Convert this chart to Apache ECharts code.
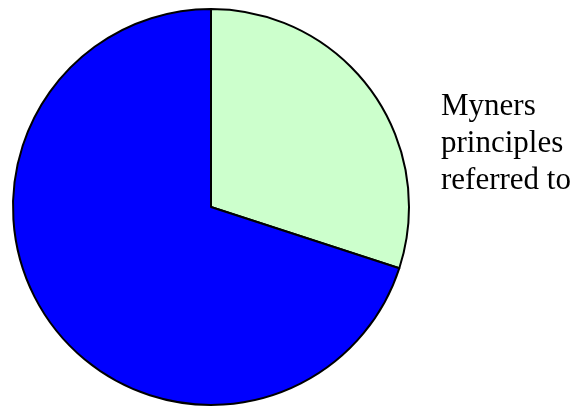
<!DOCTYPE html>
<html>
<head>
<meta charset="utf-8">
<script src="https://cdn.jsdelivr.net/npm/echarts@6/dist/echarts.min.js"></script>
<style>html,body{margin:0;padding:0;background:#fff;}#c{width:576px;height:408px;}</style>
</head>
<body>
<div id="c"></div>
<script>
const categories = ["Myners principles referred to", "Not referred to"];
const values = [30, 70];
const colors = ["#CCFFCC", "#0000FF"];
const legendLines = ["Myners", "principles", "referred to"];

const chart = echarts.init(document.getElementById('c'), null, {renderer: 'canvas'});
chart.setOption({
  animation: false,
  backgroundColor: '#ffffff',
  title: {
    text: legendLines.join('\n'),
    left: 441,
    top: 88,
    padding: 0,
    textStyle: {
      fontFamily: 'Liberation Serif',
      fontWeight: 'normal',
      fontSize: 31,
      lineHeight: 37,
      color: '#000'
    }
  },
  series: [{
    type: 'pie',
    center: [211, 207],
    radius: 198,
    startAngle: 90,
    clockwise: true,
    label: {show: false},
    labelLine: {show: false},
    emphasis: {disabled: true},
    itemStyle: {borderColor: '#000', borderWidth: 2},
    data: categories.map((n, i) => ({name: n, value: values[i], itemStyle: {color: colors[i]}}))
  }]
});
</script>
</body>
</html>
